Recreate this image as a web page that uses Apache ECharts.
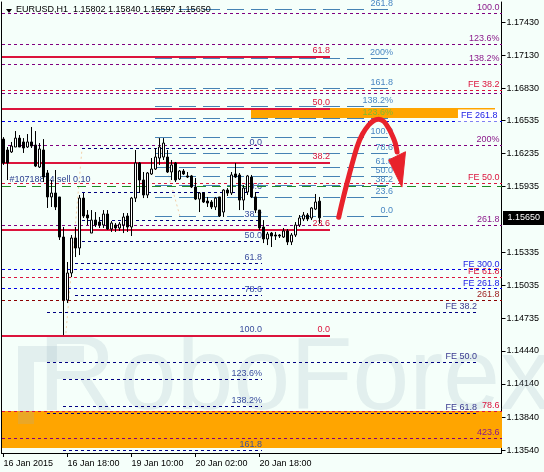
<!DOCTYPE html>
<html>
<head>
<meta charset="utf-8">
<script src="https://cdn.jsdelivr.net/npm/echarts@6.0.0/dist/echarts.min.js"></script>
<style>
html,body{margin:0;padding:0;background:#F5FFFA;}
#c{width:544px;height:472px;}
</style>
</head>
<body>
<div id="c"></div>
<script>
// ---------------- DATA ----------------
const symbolName = 'EURUSD,H1';
const xTickValues = [0, 16, 32, 48, 64];
const xTickLabels = ['16 Jan 2015', '16 Jan 18:00', '19 Jan 10:00', '20 Jan 02:00', '20 Jan 18:00'];
const yTickValues = [1.17430, 1.17130, 1.16830, 1.16535, 1.16235, 1.15935, 1.15335, 1.15035, 1.14735, 1.14440, 1.14140, 1.13840, 1.13540];
const yMin = 1.13513, yMax = 1.17612;
const xMin = -0.5, xMax = 124.5;

const opens = [1.16366,1.16267,1.16249,1.16294,1.16375,1.16340,1.16294,1.16340,1.16312,1.16112,
1.16267,1.16058,1.15840,1.15876,1.15840,1.15476,1.14903,1.15149,1.15467,1.15376,
1.15830,1.15676,1.15512,1.15630,1.15612,1.15585,1.15685,1.15549,1.15585,1.15558,
1.15585,1.15667,1.15567,1.15830,1.16149,1.15994,1.15858,1.16049,1.16094,1.16194,
1.16203,1.16203,1.16067,1.16149,1.16003,1.16076,1.16031,1.16031,1.15931,1.15821,
1.15876,1.15803,1.15794,1.15749,1.15840,1.15703,1.15903,1.15876,1.16049,1.16040,
1.15812,1.15885,1.16021,1.15840,1.15721,1.15567,1.15458,1.15512,1.15494,1.15494,
1.15476,1.15531,1.15431,1.15494,1.15585,1.15640,1.15676,1.15649,1.15730,1.15802];
const closes = [1.16149,1.16149,1.16303,1.16375,1.16294,1.16285,1.16340,1.16303,1.16121,1.16276,
1.16021,1.15840,1.15876,1.15749,1.15476,1.14903,1.15149,1.15467,1.15376,1.15830,
1.15667,1.15649,1.15630,1.15585,1.15585,1.15685,1.15549,1.15603,1.15558,1.15594,
1.15658,1.15567,1.15830,1.16149,1.15994,1.15858,1.16058,1.16094,1.16203,1.16294,
1.16330,1.16067,1.16131,1.15994,1.16076,1.16049,1.16021,1.15931,1.15821,1.15876,
1.15794,1.15785,1.15749,1.15830,1.15667,1.15903,1.15876,1.16040,1.16021,1.15812,
1.15921,1.16031,1.15840,1.15721,1.15558,1.15458,1.15503,1.15485,1.15485,1.15485,
1.15531,1.15431,1.15494,1.15585,1.15649,1.15676,1.15640,1.15740,1.15794,1.15650];
const lows = [1.16131,1.15994,1.16240,1.16294,1.16294,1.16240,1.16285,1.16285,1.16112,1.16103,
1.15976,1.15740,1.15749,1.15721,1.15449,1.14585,1.14876,1.15112,1.15294,1.15312,
1.15649,1.15585,1.15512,1.15567,1.15558,1.15558,1.15540,1.15522,1.15522,1.15531,
1.15512,1.15522,1.15485,1.15794,1.15876,1.15830,1.15830,1.16040,1.16085,1.16131,
1.16176,1.16058,1.15994,1.15976,1.15994,1.16040,1.16012,1.15921,1.15812,1.15703,
1.15785,1.15749,1.15730,1.15721,1.15658,1.15658,1.15849,1.15858,1.16012,1.15721,
1.15721,1.15858,1.15830,1.15694,1.15540,1.15421,1.15403,1.15385,1.15449,1.15467,
1.15467,1.15403,1.15403,1.15476,1.15567,1.15621,1.15621,1.15630,1.15721,1.15597];
const highs = [1.16384,1.16294,1.16340,1.16439,1.16403,1.16375,1.16412,1.16476,1.16439,1.16330,
1.16366,1.16085,1.15994,1.16085,1.15840,1.15567,1.15249,1.15494,1.15567,1.15858,
1.15876,1.15721,1.15721,1.15703,1.15658,1.15721,1.15721,1.15621,1.15603,1.15612,
1.15694,1.15694,1.15840,1.16267,1.16158,1.16067,1.16067,1.16194,1.16285,1.16375,
1.16375,1.16267,1.16176,1.16158,1.16085,1.16094,1.16067,1.16040,1.16012,1.15885,
1.15885,1.15840,1.15812,1.15840,1.15840,1.15910,1.15921,1.16067,1.16149,1.16058,
1.15949,1.16040,1.16040,1.15885,1.15721,1.15630,1.15522,1.15522,1.15522,1.15503,
1.15558,1.15549,1.15512,1.15612,1.15676,1.15703,1.15694,1.15749,1.15867,1.15840];
const currentPrice = 1.15650;

// purple Fibonacci expansion (full width)
const purpleLevels = [1.17503, 1.17230, 1.17048, 1.16776, 1.16312, 1.15585, 1.13649];
const purpleLabels = ['100.0', '123.6%', '138.2%', '', '200%', '261.8', '423.6'];
// crimson solid Fibonacci retracement
const crimsonLevels = [1.17112, 1.16639, 1.16149, 1.15540, 1.14576];
const crimsonLabels = ['61.8', '50.0', '38.2', '23.6', '0.0'];
const crimsonStart = -0.5, crimsonEnd = 81.6;
// steel blue Fibonacci (long dashes)
const steelLevels = [1.15667, 1.15836, 1.15941, 1.16026, 1.16111, 1.16231, 1.16385, 1.16554, 1.16659, 1.16829, 1.17103, 1.17547];
const steelLabels = ['0.0', '23.6', '38.2', '50.0', '61.8', '78.6', '100.0', '123.6%', '138.2%', '161.8', '200%', '261.8'];
const steelStart = 37.9, steelEnd = 97.4;
// navy Fibonacci
const navyFibLevels = [1.16276, 1.15877, 1.15630, 1.15431, 1.15231, 1.14947, 1.14585, 1.14184, 1.13939, 1.13540];
const navyFibLabels = ['0.0', '23.6', '38.2', '50.0', '61.8', '78.6', '100.0', '123.6%', '138.2%', '161.8'];
const navyFibStart = [19.6, 19.6, 19.6, 19.6, 17.9, 17.9, 14.9, 14.9, 14.9, 14.9];
const navyFibEnd = 64.6;
// blue FE lines (full width)
const blueFeLevels = [1.16530, 1.15185, 1.15012];
const blueFeLabels = ['FE 261.8', 'FE 300.0', 'FE 261.8'];
// crimson FE lines (full width)
const redFeLevels = [1.16812, 1.15958, 1.15112, 1.13894];
const redFeLabels = ['FE 38.2', 'FE 50.0', 'FE 61.8', '78.6'];
// navy FE lines
const navyFeLevels = [1.14794, 1.14331, 1.13876];
const navyFeLabels = ['FE 38.2', 'FE 50.0', 'FE 61.8'];
const navyFeStart = 10.9, navyFeEnd = 118.4;
// dark red line
const darkRedLevels = [1.14903];
const darkRedLabels = ['261.8'];
// order line
const orderLevels = [1.15932];
const orderLabels = ['#10718874 sell 0.10'];
// orange zones: [x0, x1, low, high]
const zoneX0 = [61.9, -0.5];
const zoneX1 = [122.9, 124.5];
const zoneLow = [1.16557, 1.13558];
const zoneHigh = [1.16648, 1.13894];
// red forecast arrow
const arrowX = [83.8, 85.0, 86.3, 88.4, 89.75, 91.3, 92.6, 93.8, 95.1, 96.3, 97.25, 97.95, 98.4];
const arrowY = [1.15655, 1.15840, 1.16024, 1.16297, 1.16412, 1.16494, 1.16535, 1.16546, 1.16526, 1.16464, 1.16394, 1.16328, 1.16248];
const arrowHeadX = [96.3, 100.5, 99.6];
const arrowHeadY = [1.16176, 1.16251, 1.15930];
// faint dotted tool lines
const faintX = [[15.6, 19.6], [38.6, 44.1]];
const faintY = [[1.14603, 1.16267], [1.16385, 1.15667]];

// ---------------- CHART ----------------
const FONT = '9px "Liberation Sans", Arial, sans-serif';
const chart = echarts.init(document.getElementById('c'), null, {renderer: 'canvas', width: 544, height: 472});
const candleData = opens.map((o, i) => [i, o, closes[i], lows[i], highs[i]]);

function levelSeries(o) {
  return {
    type: 'custom', z: o.z || 3, silent: true, clip: false,
    data: o.levels.map((p, k) => [Array.isArray(o.x0) ? o.x0[k] : o.x0, p]),
    encode: {x: 0, y: 1},
    renderItem: function (params, api) {
      const k = params.dataIndex;
      const p = api.value(1);
      const a = api.coord([api.value(0), p]);
      const b = api.coord([o.x1, p]);
      const w = o.width || 1;
      const y = (w % 2 === 1) ? Math.round(a[1] - 0.5) + 0.5 : Math.round(a[1]);
      const children = [{
        type: 'line',
        shape: {x1: Math.round(a[0]), y1: y, x2: Math.round(b[0]), y2: y},
        style: {stroke: o.color, lineWidth: w, lineDash: o.dash || null}
      }];
      const txt = o.labels[k];
      if (txt) {
        const left = o.labelAlign === 'left';
        const st = {
          text: txt,
          x: left ? a[0] + (o.labelDx || 0) : b[0] + (o.labelDx || 0),
          y: y - (o.labelDy == null ? 1.5 : o.labelDy),
          fill: (o.labelColors && o.labelColors[k]) || o.labelColor || o.color,
          font: FONT,
          align: left ? 'left' : 'right',
          verticalAlign: 'bottom'
        };
        if (o.labelBg && o.labelBg[k]) {
          st.backgroundColor = o.labelBg[k];
          st.padding = [2, 2, 1, 3];
        }
        children.push({type: 'text', style: st});
      }
      return {type: 'group', children: children};
    }
  };
}

const series = [];

// orange zones
series.push({
  type: 'custom', z: 1, silent: true, clip: false,
  data: zoneX0.map((x, k) => [x, zoneLow[k], zoneX1[k], zoneHigh[k]]),
  encode: {x: [0, 2], y: [1, 3]},
  renderItem: function (params, api) {
    const a = api.coord([api.value(0), api.value(3)]);
    const b = api.coord([api.value(2), api.value(1)]);
    return {type: 'rect', shape: {x: Math.round(a[0]), y: Math.round(a[1]), width: Math.round(b[0]) - Math.round(a[0]), height: Math.round(b[1]) - Math.round(a[1])}, style: {fill: '#FFA500'}};
  }
});

// faint dotted lines
faintX.forEach((xs, k) => {
  series.push({
    type: 'line', z: 2, silent: true, symbol: 'none',
    data: xs.map((x, j) => [x, faintY[k][j]]),
    lineStyle: {color: '#F2CFA8', width: 1, type: [2, 3]}
  });
});

series.push(levelSeries({levels: purpleLevels, labels: purpleLabels, x0: xMin, x1: xMax, color: '#800080', labelColor: '#8B1A8B', dash: [3, 3], labelDx: -2}));
series.push(levelSeries({levels: redFeLevels, labels: redFeLabels, x0: xMin, x1: xMax, color: '#DC143C', dash: [3, 3], labelDx: -2}));
series.push(levelSeries({levels: blueFeLevels, labels: blueFeLabels, x0: xMin, x1: xMax, color: '#0000E6', labelColor: '#1A1AE6', dash: [3, 3], labelDx: -2, labelDy: 0, labelBg: ['#FFFFFF', null, null]}));
series.push(levelSeries({levels: darkRedLevels, labels: darkRedLabels, x0: xMin, x1: xMax, color: '#8B0000', labelColor: '#9B1B1B', dash: [3, 3], labelDx: -2}));
series.push(levelSeries({levels: navyFeLevels, labels: navyFeLabels, x0: navyFeStart, x1: navyFeEnd, color: '#000080', labelColor: '#3A3A90', dash: [3, 3]}));
series.push(levelSeries({levels: navyFibLevels, labels: navyFibLabels, x0: navyFibStart, x1: navyFibEnd, color: '#000080', labelColor: '#3A4E9E', dash: [3, 3]}));
series.push(levelSeries({levels: steelLevels, labels: steelLabels, x0: steelStart, x1: steelEnd, color: '#4682B4', labelColor: '#4A87C3', labelColors: [null, null, null, null, null, null, null, '#7DBB32'], dash: [17, 7]}));
series.push(levelSeries({levels: orderLevels, labels: orderLabels, x0: xMin, x1: xMax, color: '#1E8B22', labelColor: '#2A3F8F', dash: [9, 6], labelAlign: 'left', labelDx: 8, labelDy: 2}));
series.push(levelSeries({levels: crimsonLevels, labels: crimsonLabels, x0: crimsonStart, x1: crimsonEnd, color: '#DC143C', width: 2, labelDx: 0, labelDy: 2}));

// candles
series.push({
  type: 'candlestick', z: 5, silent: true,
  data: candleData,
  encode: {x: 0, y: [1, 2, 3, 4]},
  barWidth: 2,
  itemStyle: {color: '#FFFFFF', color0: '#000000', borderColor: '#000000', borderColor0: '#000000', borderColorDoji: '#000000', borderWidth: 1}
});

// red arrow shaft
series.push({
  type: 'line', z: 6, silent: true, symbol: 'none', smooth: 0.35,
  data: arrowX.map((x, k) => [x, arrowY[k]]),
  lineStyle: {color: '#E8222B', width: 5, cap: 'round', join: 'round'}
});
// arrow head
series.push({
  type: 'custom', z: 6, silent: true, clip: false,
  data: [[arrowHeadX[2], arrowHeadY[2]]],
  encode: {x: 0, y: 1},
  renderItem: function (params, api) {
    const pts = arrowHeadX.map((x, k) => api.coord([x, arrowHeadY[k]]));
    return {type: 'polygon', shape: {points: pts}, style: {fill: '#E8222B', stroke: '#E8222B', lineWidth: 1}};
  }
});
// current price box
series.push({
  type: 'custom', z: 7, silent: true, clip: false,
  data: [[xMax, currentPrice]],
  encode: {x: 0, y: 1},
  renderItem: function (params, api) {
    const c = api.coord([api.value(0), api.value(1)]);
    const y = Math.round(c[1]);
    return {type: 'group', children: [
      {type: 'rect', shape: {x: Math.round(c[0]) + 1, y: y - 7, width: 44, height: 14}, style: {fill: '#000000'}},
      {type: 'text', style: {text: api.value(1).toFixed(5), x: Math.round(c[0]) + 5.5, y: y, fill: '#FFFFFF', font: FONT, align: 'left', verticalAlign: 'middle'}}
    ]};
  }
});

const lastIdx = opens.length - 1;
const titleText = symbolName + '  ' + [opens[lastIdx], highs[lastIdx], lows[lastIdx], closes[lastIdx]].map(v => v.toFixed(5)).join(' ');
const WM = 'rgba(150,175,190,0.2)';

const option = {
  animation: false,
  backgroundColor: '#F5FFFA',
  grid: {left: 1.5, right: 42.5, top: 2, height: 451, show: false},
  xAxis: {
    type: 'value', min: xMin, max: xMax,
    axisLine: {show: true, onZero: false, lineStyle: {color: '#000', width: 1}},
    axisTick: {show: true, inside: false, length: 4, customValues: xTickValues, lineStyle: {color: '#000'}},
    axisLabel: {show: true, customValues: xTickValues, align: 'left', margin: 6, color: '#000', fontSize: 9, fontFamily: '"Liberation Sans", Arial, sans-serif',
      formatter: function (v) { const k = xTickValues.indexOf(v); return k >= 0 ? xTickLabels[k] : ''; }},
    splitLine: {show: false}
  },
  yAxis: [{
    type: 'value', position: 'right', min: yMin, max: yMax,
    axisLine: {show: true, onZero: false, lineStyle: {color: '#000', width: 1}},
    axisTick: {show: true, inside: false, length: 4, customValues: yTickValues, lineStyle: {color: '#000'}},
    axisLabel: {show: true, customValues: yTickValues, margin: 5, color: '#000', fontSize: 9, fontFamily: '"Liberation Sans", Arial, sans-serif',
      formatter: function (v) { return v.toFixed(5); }},
    splitLine: {show: false}
  }, {
    type: 'value', position: 'left', min: yMin, max: yMax,
    axisLine: {show: true, onZero: false, lineStyle: {color: '#000', width: 1}},
    axisTick: {show: false}, axisLabel: {show: false}, splitLine: {show: false}
  }],
  graphic: [
    {type: 'rect', z: 2, silent: true, shape: {x: 18, y: 346, width: 16, height: 78}, style: {fill: WM}},
    {type: 'rect', z: 2, silent: true, shape: {x: 34, y: 346, width: 50, height: 16}, style: {fill: WM}},
    {type: 'text', z: 2, silent: true, left: 38, top: 326,
      style: {text: 'R', font: '108px "Liberation Sans", Arial, sans-serif', fill: WM}},
    {type: 'text', z: 2, silent: true, left: 120, top: 330,
      style: {text: 'oboForex', font: '102px "Liberation Sans", Arial, sans-serif', fill: WM}},
    {type: 'polygon', z: 10, silent: true, shape: {points: [[6, 9], [12, 9], [9, 13]]}, style: {fill: '#000'}},
    {type: 'text', z: 10, silent: true, left: 16, top: 5, style: {text: titleText, font: FONT, fill: '#000'}}
  ],
  series: series
};
chart.setOption(option);
</script>
</body>
</html>
